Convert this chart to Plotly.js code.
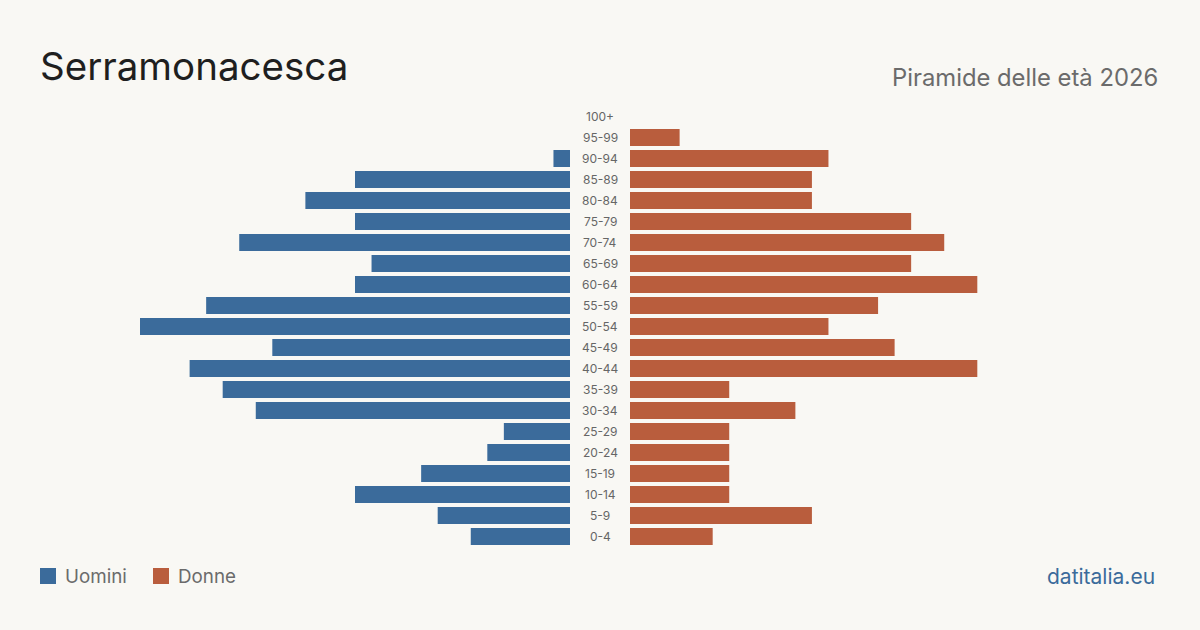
<!DOCTYPE html>
<html>
<head>
<meta charset="utf-8">
<script src="https://cdn.plot.ly/plotly-3.0.1.min.js"></script>
<style>
  html, body { margin: 0; padding: 0; background: #f9f8f4; }
  #chart { width: 1200px; height: 630px; }
</style>
</head>
<body>
<div id="chart"></div>
<script>
// Age classes, youngest first
const ageGroups = ["0-4","5-9","10-14","15-19","20-24","25-29","30-34","35-39","40-44","45-49",
                   "50-54","55-59","60-64","65-69","70-74","75-79","80-84","85-89","90-94","95-99","100+"];
// Residents by sex
const men   = [6, 8, 13, 9, 5, 4, 19, 21, 23, 18, 26, 22, 13, 12, 20, 13, 16, 13, 1, 0, 0];
const women = [5, 11, 6, 6, 6, 6, 10, 6, 21, 16, 12, 15, 21, 17, 19, 17, 11, 11, 12, 3, 0];

const BLUE = "#3b6b9b";
const RUST = "#b95d3d";
const FONT = "Inter, 'Liberation Sans', sans-serif";

const W = 1200, H = 630;
const px = v => v / W;
const py = v => 1 - v / H;

const maxVal = Math.max(...men, ...women);

const traces = [
  { type: "bar", orientation: "h", name: "Uomini", y: ageGroups, x: men,
    xaxis: "x", yaxis: "y", marker: { color: BLUE }, hoverinfo: "x+y" },
  { type: "bar", orientation: "h", name: "Donne", y: ageGroups, x: women,
    xaxis: "x2", yaxis: "y", marker: { color: RUST }, hoverinfo: "x+y" }
];

const annotations = ageGroups.map(g => ({
  x: 0.5, xref: "paper", y: g, yref: "y", text: g, showarrow: false,
  xanchor: "center", yanchor: "middle",
  font: { family: FONT, size: 12, color: "#666666" }
}));

annotations.push(
  { x: px(38), y: py(66), xref: "paper", yref: "paper", xanchor: "left", yanchor: "middle",
    text: "Serramonacesca", showarrow: false, font: { family: FONT, size: 38.5, color: "#1f1f1f" } },
  { x: px(1160), y: py(77), xref: "paper", yref: "paper", xanchor: "right", yanchor: "middle",
    text: "Piramide delle età 2026", showarrow: false, font: { family: FONT, size: 23.8, color: "#6b6b6b" } },
  { x: px(63), y: py(576), xref: "paper", yref: "paper", xanchor: "left", yanchor: "middle",
    text: "Uomini", showarrow: false, font: { family: FONT, size: 18.8, color: "#6b6b6b" } },
  { x: px(176), y: py(576), xref: "paper", yref: "paper", xanchor: "left", yanchor: "middle",
    text: "Donne", showarrow: false, font: { family: FONT, size: 18.8, color: "#6b6b6b" } },
  { x: px(1157), y: py(576), xref: "paper", yref: "paper", xanchor: "right", yanchor: "middle",
    text: "datitalia.eu", showarrow: false, font: { family: FONT, size: 21, color: BLUE } }
);

const shapes = [
  { type: "rect", xref: "paper", yref: "paper", x0: px(40), x1: px(56), y0: py(584), y1: py(568),
    fillcolor: BLUE, line: { width: 0 } },
  { type: "rect", xref: "paper", yref: "paper", x0: px(153), x1: px(169), y0: py(584), y1: py(568),
    fillcolor: RUST, line: { width: 0 } }
];

const layout = {
  width: W, height: H,
  margin: { l: 0, r: 0, t: 0, b: 0 },
  paper_bgcolor: "#f9f8f4", plot_bgcolor: "#f9f8f4",
  showlegend: false,
  bargap: 0.19,
  xaxis:  { domain: [px(140), px(570)], range: [maxVal, 0], visible: false, fixedrange: true },
  xaxis2: { domain: [px(630), px(1060)], range: [0, maxVal], visible: false, fixedrange: true },
  yaxis:  { domain: [py(547), py(106)], range: [-0.5, ageGroups.length - 0.5], visible: false,
            type: "category", fixedrange: true },
  annotations, shapes,
  font: { family: FONT }
};

Plotly.newPlot("chart", traces, layout, { staticPlot: true, displayModeBar: false });
</script>
</body>
</html>
